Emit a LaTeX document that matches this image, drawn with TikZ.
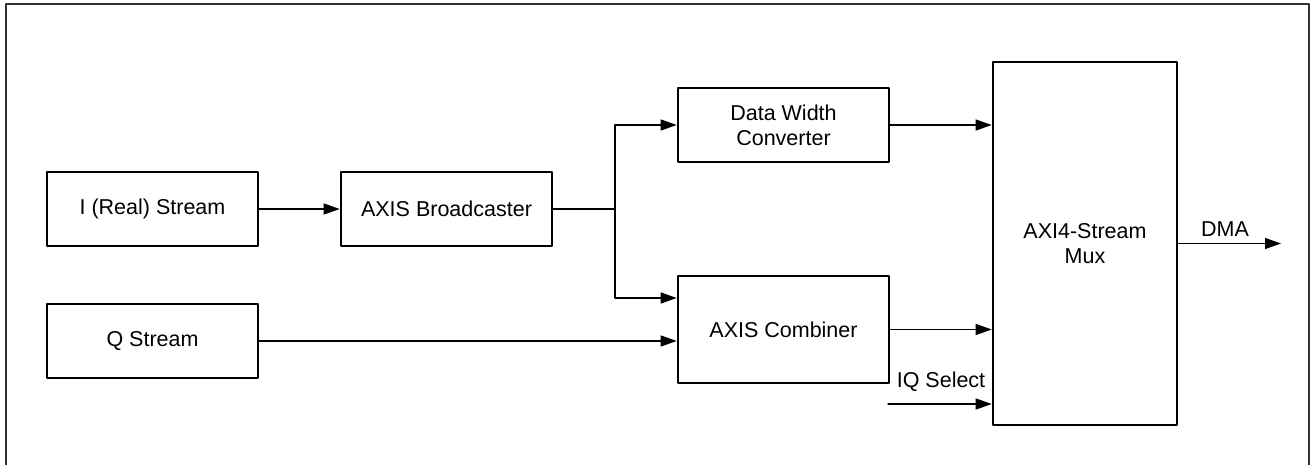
\documentclass[tikz,border=0pt]{standalone}
\usepackage{fontspec}
\setmainfont{Liberation Sans}
\usetikzlibrary{calc}
\usetikzlibrary{arrows.meta}

\begin{document}
\begin{tikzpicture}[x=1pt, y=-1pt, line cap = round, line join = round, >={Triangle[length=16pt,width=11pt]}]
\tikzstyle{block}=[draw=black, line width=2.6pt, rectangle, align=center, minimum width=211pt, minimum height=74pt, inner sep=0pt, font=\fontsize{21.5}{25}\selectfont]
\tikzstyle{wire}=[line width=1.3pt, color=black]
\tikzstyle{label}=[inner sep=0pt, font=\fontsize{21.5}{25}\selectfont]
\useasboundingbox (0,0) rectangle (1312,465);
\begin{scope}
\clip (0,0) rectangle (1312,465);
\draw[line width=2pt, color=black!80] (6,4) rectangle (1309,480);
\end{scope}

\node[block] (istream) at (152.5,209) {I (Real) Stream};
\node[block] (qstream) at (152.5,341) {Q Stream};
\node[block] (bcast) at (446.5,209) {AXIS Broadcaster};
\node[block] (dwc) at (783.5,125) {Data Width\\Converter};
\node[block, minimum height=107pt] (comb) at (783.5,329.5) {AXIS Combiner};
\node[block, minimum width=184pt, minimum height=363pt] (mux) at (1085,243.5) {AXI4-Stream\\Mux};

\coordinate (split) at (615,209);
\coordinate (iqin) at (888,404);
\coordinate (dma) at (1281,243.5);

\draw[wire,->] (istream) -- (bcast);
\draw[wire] (bcast.east) -- (split);
\draw[wire,->] (split) |- (dwc.west);
\draw[wire,->] (split) |- ($ (comb.west) + (0,-31.5) $);
\draw[wire,->] (qstream.east) -- (qstream.east -| comb.west);
\draw[wire,->] (dwc.east) -- (dwc.east -| mux.west);
\draw[wire,->] (comb.east) -- (comb.east -| mux.west);
\draw[wire,->] (iqin) -- (iqin -| mux.west);
\draw[wire,->] (mux.east) -- (dma);

\node[label] (iqlabel) at (941,382) {IQ Select};
\node[label] (dmalabel) at (1225,229.5) {DMA};
\end{tikzpicture}
\end{document}
